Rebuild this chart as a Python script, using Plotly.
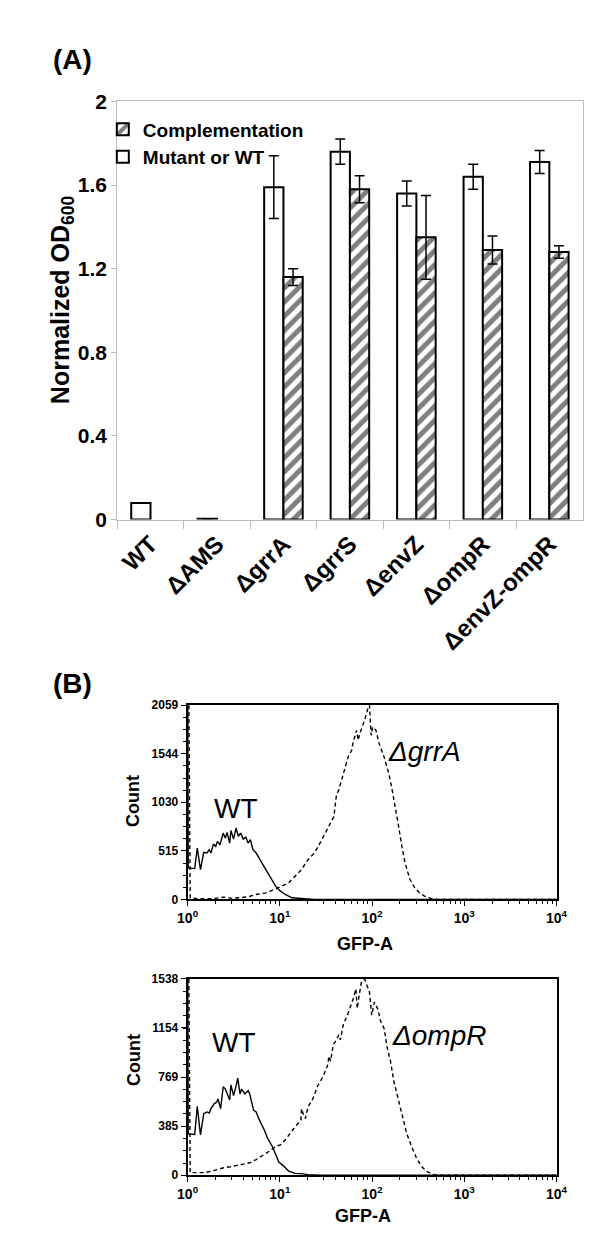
import plotly.graph_objects as go

W, H = 600, 1247

# ============================================================
# DATA
# ============================================================

# (A) growth, normalized OD600
strains = ["WT", "ΔAMS", "ΔgrrA", "ΔgrrS", "ΔenvZ", "ΔompR", "ΔenvZ-ompR"]
mutant_od = [0.08, 0.004, 1.59, 1.76, 1.56, 1.64, 1.71]
mutant_err = [None, None, 0.15, 0.06, 0.06, 0.06, 0.055]
comp_od = [None, None, 1.16, 1.58, 1.35, 1.29, 1.28]
comp_err = [None, None, 0.04, 0.065, 0.2, 0.067, 0.03]

# (B) flow cytometry histograms, top panel
wt1_gfp = [1.005, 1.016, 1.194, 1.274, 1.380, 1.496, 1.622, 1.718, 1.791, 1.905, 2.018, 2.104,
           2.244, 2.432, 2.570, 2.679, 2.858, 2.951, 3.148, 3.357, 3.556, 3.758, 4.015, 4.285,
           4.529, 4.797, 5.117, 5.546, 6.252, 7.063, 7.980, 8.995, 10.16, 11.48, 13.49, 17.18,
           23.71, 10000]
wt1_count = [2059, 334, 327, 545, 316, 499, 492, 527, 492, 587, 562, 615,
             580, 703, 650, 710, 597, 731, 640, 756, 668, 703, 640, 661,
             597, 633, 527, 492, 404, 316, 228, 141, 88, 53, 18, 7,
             0, 0]

grra_gfp = [1.033, 1.067, 1.294, 1.791, 2.47, 2.904, 3.70, 4.53, 5.55, 7.06, 9.00, 10.59,
            12.45, 14.62, 17.18, 20.18, 23.71, 27.93, 32.81, 36.98, 38.55, 41.11, 43.55, 47.21,
            51.17, 55.46, 60.12, 62.52, 67.92, 70.63, 73.6, 82.99, 89.95, 93.76, 97.72, 101.6,
            110.2, 119.4, 134.9, 152.1, 165.2, 179.1, 194.1, 210.4, 228.0, 257.6, 290.4, 328.1,
            369.8, 435.5, 511.7, 10000]
grra_count = [2059, 18, 7, 7, 25, 14, 18, 28, 53, 70, 112, 141,
              176, 246, 316, 422, 492, 615, 756, 843, 879, 1107, 1160, 1283,
              1406, 1518, 1581, 1669, 1792, 1687, 1757, 1898, 2020, 2059, 1739, 1827,
              1792, 1651, 1511, 1335, 1160, 984, 773, 562, 387, 211, 123, 70,
              35, 11, 0, 0]

# (B) bottom panel
wt2_gfp = [1.005, 1.016, 1.194, 1.274, 1.380, 1.496, 1.622, 1.718, 1.791, 1.941, 2.07, 2.138,
           2.28, 2.432, 2.570, 2.679, 2.858, 2.951, 3.148, 3.357, 3.499, 3.70, 3.855, 4.18,
           4.529, 4.72, 5.200, 5.546, 6.012, 6.792, 7.362, 8.299, 8.995, 9.750, 11.02, 12.45,
           14.62, 17.18, 20.18, 27.93, 10000]
wt2_count = [1538, 324, 319, 540, 316, 483, 496, 488, 522, 560, 573, 599,
             522, 694, 676, 637, 590, 709, 624, 701, 761, 637, 676, 637,
             663, 637, 509, 496, 432, 355, 290, 226, 162, 103, 72, 33,
             15, 13, 5, 0, 0]

ompr_gfp = [1.033, 1.067, 1.245, 1.52, 1.791, 2.104, 2.472, 2.904, 3.412, 4.018, 4.72, 5.546,
            6.516, 7.656, 8.995, 10.16, 11.48, 12.94, 14.62, 16.90, 17.18, 17.9, 18.92, 20.18,
            22.80, 25.76, 29.04, 32.81, 34.12, 35.56, 37.93, 41.11, 43.55, 45.3, 49.09, 53.21,
            57.68, 62.52, 66.83, 69.02, 72.44, 76.56, 82.99, 87.9, 93.76, 99.08, 105.9, 114.8,
            124.5, 134.9, 146.2, 158.5, 171.8, 186.2, 201.8, 218.8, 237.1, 267.9, 302.7, 341.2,
            385.5, 417.8, 472.1, 554.6, 10000]
ompr_count = [1538, 21, 21, 21, 31, 46, 59, 67, 77, 87, 98, 123,
              154, 188, 226, 239, 278, 329, 380, 432, 522, 483, 445, 535,
              599, 702, 766, 856, 933, 894, 1023, 1061, 1100, 1061, 1190, 1241,
              1306, 1383, 1460, 1306, 1408, 1511, 1538, 1485, 1435, 1254, 1357, 1306,
              1203, 1151, 997, 894, 740, 637, 535, 432, 329, 226, 136, 72,
              33, 21, 5, 0, 0]

hist1_ticks = [0, 515, 1030, 1544, 2059]
hist2_ticks = [0, 385, 769, 1154, 1538]
gfp_ticks = [1, 10, 100, 1000, 10000]
gfp_ticktext = ["10<sup>0</sup>", "10<sup>1</sup>", "10<sup>2</sup>", "10<sup>3</sup>", "10<sup>4</sup>"]


# ============================================================
# HELPERS
# ============================================================

def px_x(p):
    return p / W

def px_y(p):
    return 1 - p / H

FONT = "Liberation Sans, Arial, sans-serif"

def bold(size):
    return dict(family=FONT, size=size, color="black", weight="bold")

fig = go.Figure()

# ---- (A) bars
fig.add_trace(go.Bar(
    x=strains, y=mutant_od, name="Mutant or WT", legendgroup="mut",
    marker=dict(color="white", line=dict(color="black", width=2)),
    error_y=dict(type="data", array=mutant_err, color="black", thickness=1.5, width=5),
    xaxis="x", yaxis="y",
))
fig.add_trace(go.Bar(
    x=strains, y=comp_od, name="Complementation", legendgroup="comp",
    marker=dict(color="white", line=dict(color="black", width=2),
                pattern=dict(shape="/", fgcolor="black", bgcolor="white", size=10, solidity=0.5)),
    error_y=dict(type="data", array=comp_err, color="black", thickness=1.5, width=5),
    xaxis="x", yaxis="y",
))

# ---- (B) histograms
def add_hist(gfp, count, ax, dash):
    fig.add_trace(go.Scatter(
        x=gfp, y=count, mode="lines", showlegend=False,
        line=dict(color="black", width=1.4, dash=dash),
        xaxis="x" + ax, yaxis="y" + ax,
    ))

add_hist(wt1_gfp, wt1_count, "2", "solid")
add_hist(grra_gfp, grra_count, "2", "4px,3px")
add_hist(wt2_gfp, wt2_count, "3", "solid")
add_hist(ompr_gfp, ompr_count, "3", "4px,3px")

grey = "#bdbdbd"
fig.update_layout(
    width=W, height=H,
    margin=dict(l=0, r=0, t=0, b=0),
    paper_bgcolor="white", plot_bgcolor="white",
    barmode="group", bargap=0.42, bargroupgap=0,
    legend=dict(x=px_x(87), y=px_y(92), xanchor="left", yanchor="top",
                traceorder="reversed", font=bold(19), bgcolor="rgba(0,0,0,0)",
                tracegroupgap=4),
    xaxis=dict(domain=[px_x(102), px_x(585)], anchor="y", type="category",
               showline=True, linecolor=grey, linewidth=1, mirror=True,
               ticks="outside", tickson="boundaries", ticklen=8, tickcolor=grey,
               tickangle=-45, tickfont=bold(24), showgrid=False),
    yaxis=dict(domain=[px_y(509), px_y(83)], anchor="x", range=[0, 2],
               tickvals=[0, 0.4, 0.8, 1.2, 1.6, 2], ticktext=["0", "0.4", "0.8", "1.2", "1.6", "2"],
               showline=True, linecolor=grey, linewidth=1, mirror=True,
               ticks="outside", ticklen=5, tickcolor=grey, tickfont=bold(21),
               showgrid=False, zeroline=False),
)

for ax, top, bottom, ticks in [("2", 698, 896, hist1_ticks), ("3", 977, 1177, hist2_ticks)]:
    fig.update_layout({
        "xaxis" + ax: dict(domain=[px_x(175), px_x(558)], anchor="y" + ax, type="log",
                           range=[0, 4], tickvals=gfp_ticks, ticktext=gfp_ticktext,
                           showline=True, linecolor="black", linewidth=1.8, mirror=True,
                           ticks="outside", ticklen=5, tickcolor="black", tickfont=bold(14),
                           minor=dict(ticks="outside", ticklen=3, tickcolor="black", dtick="D1"),
                           showgrid=False, zeroline=False),
        "yaxis" + ax: dict(domain=[px_y(bottom), px_y(top)], anchor="x" + ax,
                           range=[0, ticks[-1]], tickvals=ticks,
                           showline=True, linecolor="black", linewidth=1.8, mirror=True,
                           ticks="outside", ticklen=5, tickcolor="black", tickfont=bold(12),
                           minor=dict(ticks="outside", ticklen=3, tickcolor="black",
                                      tickmode="linear", tick0=0, dtick=ticks[-1] / 16),
                           showgrid=False, zeroline=False),
    })

# ---- text
def note(text, x, y, font, angle=0, xref="paper", yref="paper", xanchor="center"):
    fig.add_annotation(text=text, x=x, y=y, xref=xref, yref=yref, showarrow=False,
                       font=font, textangle=angle, xanchor=xanchor, yanchor="middle")

note("(A)", px_x(33), px_y(40), bold(28), xanchor="left")
note("(B)", px_x(33), px_y(676), bold(28), xanchor="left")
note("Normalized OD<sub>600</sub>", px_x(44), px_y(285), bold(25), angle=-90)

note("Count", px_x(119), px_y(796), bold(18), angle=-90)
note("GFP-A", px_x(359), px_y(941), bold(18))
note("Count", px_x(120), px_y(1060), bold(18), angle=-90)
note("GFP-A", px_x(357), px_y(1218), bold(18))

plain = dict(family=FONT, size=28, color="black")
italic = dict(family=FONT, size=28, color="black", style="italic")
note("WT", 0.52, 967, plain, xref="x2", yref="y2")
note("ΔgrrA", 2.57, 1570, italic, xref="x2", yref="y2")
note("WT", 0.5, 1040, plain, xref="x3", yref="y3")
note("ΔompR", 2.73, 1093, italic, xref="x3", yref="y3")

fig.write_html("out.html")
